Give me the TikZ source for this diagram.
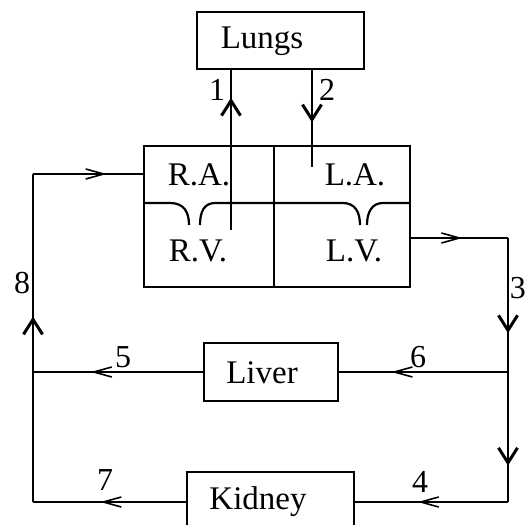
\documentclass[tikz,border=0pt]{standalone}
\usepackage{fontspec}
\setmainfont{Liberation Serif}
\usetikzlibrary{arrows.meta,decorations.markings}
\begin{document}
\begin{tikzpicture}[x=0.5pt,y=-0.5pt,
  box/.style={draw, line width=1pt, inner sep=0pt},
  txt/.style={inner sep=0pt, font=\fontsize{16.5}{18}\selectfont},
  lbl/.style={inner sep=0pt, font=\fontsize{16}{18}\selectfont},
  line/.style={line width=1.1pt},
  varr/.style={postaction={decorate}, decoration={markings, mark=at position #1 with {\arrow{Straight Barb[length=7.5pt,width=9.5pt,line width=1.5pt]}}}},
  harr/.style={postaction={decorate}, decoration={markings, mark=at position #1 with {\arrow{Straight Barb[length=9pt,width=5pt,line width=0.8pt]}}}}
]
\useasboundingbox (0,0) rectangle (525,525);
% boxes
\node[box, minimum width=83.5pt, minimum height=28.5pt] (lungs) at (280.5,40.5) {};
\node[txt] (lungst) at (262,41) {Lungs};
\node[box, minimum width=133pt, minimum height=70.5pt] (heart) at (277,216.5) {};
\node[box, minimum width=67pt, minimum height=29pt] (liver) at (271,372) {};
\node[txt] (livert) at (262,373) {Liver};
\node[box, minimum width=83.5pt, minimum height=30pt] (kidney) at (270.5,502) {};
\node[txt] (kidneyt) at (258,502) {Kidney};
% heart interior
\draw[line] (274,146) -- (274,287);
\draw[line] (144,203) -- (170,203) .. controls (184,203) and (189,212) .. (189,225);
\draw[line] (200,225) .. controls (200,212) and (204,203) .. (215,203) -- (343,203)
  .. controls (355,203) and (360,212) .. (360,225);
\draw[line] (367,225) .. controls (367,212) and (372,203) .. (383,203) -- (410,203);
\node[txt] (ra) at (199,175) {R.A.};
\node[txt] (la) at (355,175) {L.A.};
\node[txt] (rv) at (198,251) {R.V.};
\node[txt] (lv) at (354,251) {L.V.};
% lungs connectors
\coordinate (rvin) at (231,230);
\coordinate (lain) at (312,167);
\draw[line, varr=0.826] (rvin) -- (rvin |- lungs.south);
\draw[line, varr=0.54] (lain |- lungs.south) -- (lain);
% left loop
\coordinate (bl) at (33,502);
\coordinate (ml) at (33,372);
\coordinate (tl) at (33,174);
\draw[line, harr=0.56] (kidney.west) -- (bl);
\draw[line] (bl) -- (ml);
\draw[line, varr=0.28] (ml) -- (tl);
\draw[line, harr=0.67] (tl) -- (tl -| heart.west);
\draw[line, harr=0.66] (liver.west) -- (ml);
% right loop
\coordinate (tr) at (508,238);
\coordinate (mr) at (508,372);
\coordinate (br) at (508,502);
\draw[line, harr=0.53] (tr -| heart.east) -- (tr);
\draw[line, varr=0.71] (tr) -- (mr);
\draw[line, harr=0.69] (mr) -- (liver.east);
\draw[line, varr=0.72] (mr) -- (br);
\draw[line, harr=0.59] (br) -- (kidney.east);
% labels
\node[lbl] (n1) at (217,90) {1};
\node[lbl] (n2) at (327,90) {2};
\node[lbl, anchor=west] (n3) at (509.5,288) {3};
\node[lbl] (n4) at (420,482) {4};
\node[lbl] (n5) at (123,357) {5};
\node[lbl] (n6) at (418,357) {6};
\node[lbl] (n7) at (105,480) {7};
\node[lbl] (n8) at (22,283) {8};
\end{tikzpicture}
\end{document}
